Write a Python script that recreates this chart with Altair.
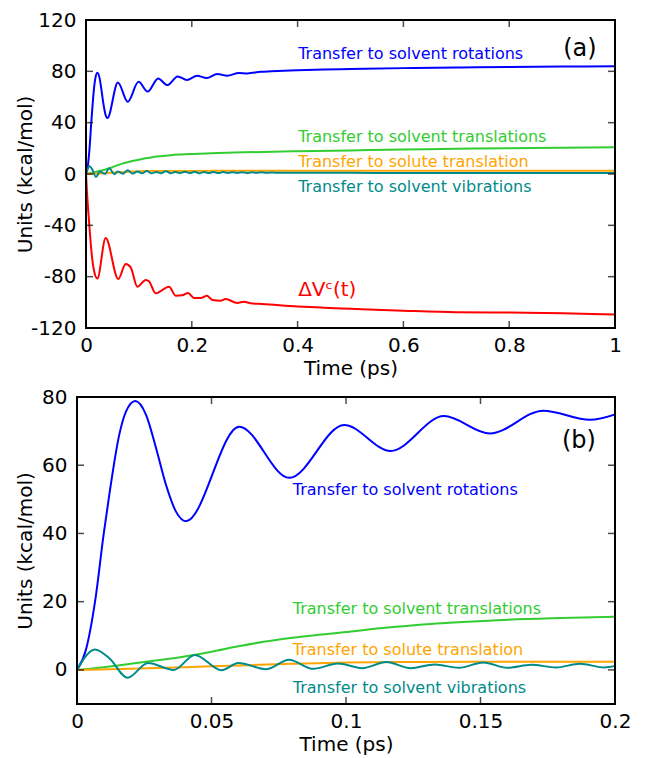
import altair as alt
import pandas as pd

# ---------------- data ----------------
SERIES = ["rot", "trans", "solute", "vib", "dv"]
COLORS = ["#0000ff", "#32cd32", "#ffa500", "#008b8b", "#ff0000"]

rot_t = [0, 0.0033, 0.0056, 0.0068, 0.0099, 0.012, 0.0157, 0.0182, 0.0217, 0.0257, 0.0294,
         0.0331, 0.0368, 0.0405, 0.0603, 0.0789, 0.0993, 0.1166, 0.1364, 0.1535,
         0.1734, 0.1907, 0.210, 0.228, 0.248, 0.267, 0.289, 0.305, 0.330, 0.35, 0.40, 0.45,
         0.5, 0.6, 0.7, 0.8, 0.9, 1.0]
rot_y = [0, 5.8, 14.6, 20.5, 39.7, 51.3, 68.9, 75.7, 78.8, 74.7, 65.0,
         54.2, 46.4, 43.6, 71.3, 56.3, 71.8, 64.2, 74.4, 69.3,
         76.0, 73.3, 76.6, 74.8, 77.9, 76.6, 78.7, 78.4, 79.6, 80.0, 80.8, 81.4,
         81.8, 82.5, 83.0, 83.3, 83.7, 84.0]

trans_t = [0, 0.01, 0.02, 0.03, 0.04, 0.05, 0.06, 0.07, 0.08, 0.09, 0.1, 0.11, 0.12, 0.13,
           0.14, 0.16, 0.18, 0.2, 0.25, 0.3, 0.4, 0.5, 0.6, 0.7, 0.8, 0.9, 1.0]
trans_y = [0, 0.8, 1.8, 2.8, 3.9, 5.3, 6.9, 8.3, 9.4, 10.3, 11.1, 12.0, 12.7, 13.4,
           13.9, 14.7, 15.2, 15.6, 16.3, 16.9, 17.7, 18.4, 19.0, 19.6, 20.1, 20.5, 20.9]

solute_t = [0, 0.02, 0.04, 0.06, 0.08, 0.1, 0.12, 0.15, 0.2, 0.3, 0.5, 0.7, 1.0]
solute_y = [0, 0.3, 0.8, 1.3, 1.8, 2.2, 2.3, 2.4, 2.4, 2.5, 2.5, 2.5, 2.5]

vib_t = [0, 0.0067, 0.012, 0.0188, 0.0264, 0.036, 0.0438, 0.0537, 0.060, 0.0704, 0.0788,
         0.0878, 0.097, 0.106, 0.115, 0.124, 0.133, 0.142, 0.151, 0.160, 0.169, 0.178,
         0.187, 0.196, 0.205, 0.214, 0.223, 0.232, 0.241, 0.250, 0.259, 0.268, 0.277,
         0.286, 0.295, 0.304, 0.313, 0.322, 0.331, 0.340, 0.349, 0.358, 0.4, 0.5, 0.6,
         0.7, 0.8, 0.9, 1.0]
vib_y = [0, 6.0, 3.4, -2.3, 2.0, 0.0, 4.4, -0.1, 2.0, 0.2, 3.0,
         0.3, 1.9, 0.5, 2.3, 0.5, 1.6, 0.6, 2.2, 0.6, 1.5, 0.7,
         1.8, 0.7, 1.7, 0.6, 1.6, 0.7, 1.6, 0.7, 1.5, 0.8, 1.4,
         0.8, 1.4, 0.8, 1.3, 0.9, 1.3, 0.9, 1.2, 1.0, 1.0, 0.9, 0.8,
         0.8, 0.8, 0.8, 0.8]

dv_t = [0, 0.002, 0.0063, 0.0107, 0.015, 0.0214, 0.0372, 0.061, 0.075, 0.0845, 0.097, 0.113,
        0.119, 0.1317, 0.157, 0.1695, 0.182, 0.1928, 0.204, 0.2168, 0.229, 0.2388, 0.2546,
        0.264, 0.286, 0.2987, 0.311, 0.333, 0.4, 0.45, 0.5, 0.6, 0.7, 0.8, 0.9, 1.0]
dv_y = [0, -15, -40, -62, -75, -81.5, -49.9, -81.8, -70.1, -72.7, -87.8, -82.6,
        -83.6, -93.0, -87.8, -94.8, -94.5, -92.7, -96.6, -96.6, -94.8, -98.2, -98.7,
        -97.4, -100.5, -99.5, -100.8, -101.3, -103.2, -104.2, -105.0, -106.5, -107.7,
        -108.0, -108.6, -109.5]

# annotations
a_text = ["Transfer to solvent rotations", "Transfer to solvent translations",
          "Transfer to solute translation", "Transfer to solvent vibrations"]
a_series = ["rot", "trans", "solute", "vib"]
a_x = [0.401, 0.401, 0.401, 0.401]
a_y = [89.6, 25.2, 5.2, -14.3]
dv_label = "ΔVᶜ(t)"
dv_label_xy = (0.401, -94.8)
tag_a = ("(a)", 0.9654, 92.2)

b_x = [0.0802, 0.0802, 0.0802, 0.0802]
b_y = [51.3, 16.3, 4.4, -6.9]
tag_b = ("(b)", 0.1929, 65.0)

xa_ticks = [0, 0.2, 0.4, 0.6, 0.8, 1]
ya_ticks = [-120, -80, -40, 0, 40, 80, 120]
xb_ticks = [0, 0.05, 0.1, 0.15, 0.2]
yb_ticks = [0, 20, 40, 60, 80]

# ---------------- build tables ----------------
frames = []
for name, t, y in [("rot", rot_t, rot_y), ("trans", trans_t, trans_y),
                   ("solute", solute_t, solute_y), ("vib", vib_t, vib_y),
                   ("dv", dv_t, dv_y)]:
    frames.append(pd.DataFrame({"t": t, "y": y, "series": name}))
lines_df = pd.concat(frames, ignore_index=True)

FONT = "DejaVu Sans"
color_scale = alt.Scale(domain=SERIES, range=COLORS)
LABEL_EXPR = "replace(format(datum.value, '~g'), '\u2212', '-')"
TICK_LEN = 7
GROUP_W = 538  # both panels share the same group width; panel (a) is inset on the left


def panel(df, xdom, ydom, xticks, yticks, inset, H, ann_df, tag):
    W = GROUP_W
    xs = alt.Scale(domain=xdom, nice=False, zero=False, range=[inset, W])
    ys = alt.Scale(domain=ydom, nice=False, zero=False)
    x_axis = alt.Axis(values=xticks, ticks=False, domain=False, grid=False,
                      labelExpr=LABEL_EXPR, labelFontSize=20, labelPadding=7,
                      labelFont=FONT, labelColor="black", title="Time (ps)",
                      titleFontSize=20, titleFont=FONT, titleFontWeight="normal",
                      titleColor="black", titleY=40, titleX=(inset + W) / 2,
                      titleBaseline="middle", titleAlign="center",
                      labelFlush=False, labelOverlap=False)
    y_axis = alt.Axis(values=yticks, ticks=False, domain=False, grid=False,
                      labelExpr=LABEL_EXPR, labelFontSize=20, labelPadding=10,
                      labelFont=FONT, labelColor="black", title="Units (kcal/mol)",
                      titleFontSize=20, titleFont=FONT, titleFontWeight="normal",
                      titleColor="black", titleX=-52 - inset, titleY=H / 2,
                      titleAngle=270, titleBaseline="middle", titleAlign="center",
                      labelFlush=False, labelOverlap=False, offset=-inset)

    def X(field):
        return alt.X(field, type="quantitative", scale=xs, axis=x_axis, title="Time (ps)")

    def Y(field):
        return alt.Y(field, type="quantitative", scale=ys, axis=y_axis, title="Units (kcal/mol)")

    lines = alt.Chart(df).mark_line(interpolate="monotone", strokeWidth=2, clip=True).encode(
        x=X("t"), y=Y("y"),
        color=alt.Color("series:N", scale=color_scale, legend=None),
        order=alt.Order("t:Q"),
    )

    # frame along the scale domain
    frame_df = pd.DataFrame({
        "xa": [xdom[0], xdom[1], xdom[0], xdom[0]],
        "xb": [xdom[0], xdom[1], xdom[1], xdom[1]],
        "ya": [ydom[0], ydom[0], ydom[0], ydom[1]],
        "yb": [ydom[1], ydom[1], ydom[0], ydom[1]],
    })
    frame = alt.Chart(frame_df).mark_rule(color="black", strokeWidth=2, strokeCap="square").encode(
        x=X("xa"), x2="xb:Q", y=Y("ya"), y2="yb:Q")

    # inward ticks on all four sides
    xt = pd.DataFrame({"t": xticks, "ylo": ydom[0], "yhi": ydom[1]})
    yt = pd.DataFrame({"y": yticks, "xlo": xdom[0], "xhi": xdom[1]})
    tk = dict(color="black", thickness=1.5, size=TICK_LEN)
    bottom = alt.Chart(xt).mark_tick(orient="vertical", yOffset=-TICK_LEN / 2, **tk).encode(
        x=X("t"), y=Y("ylo"))
    top = alt.Chart(xt).mark_tick(orient="vertical", yOffset=TICK_LEN / 2, **tk).encode(
        x=X("t"), y=Y("yhi"))
    left = alt.Chart(yt).mark_tick(orient="horizontal", xOffset=TICK_LEN / 2, **tk).encode(
        x=X("xlo"), y=Y("y"))
    right = alt.Chart(yt).mark_tick(orient="horizontal", xOffset=-TICK_LEN / 2, **tk).encode(
        x=X("xhi"), y=Y("y"))

    ann = alt.Chart(ann_df).mark_text(align="left", baseline="alphabetic", font=FONT).encode(
        x=X("t"), y=Y("y"),
        text="label:N",
        color=alt.Color("series:N", scale=color_scale, legend=None),
        size=alt.Size("fs:Q", scale=None, legend=None),
    )
    tag_df = pd.DataFrame({"label": [tag[0]], "t": [tag[1]], "y": [tag[2]]})
    tagm = alt.Chart(tag_df).mark_text(align="right", baseline="alphabetic", font=FONT,
                                       fontSize=24, color="black").encode(
        x=X("t"), y=Y("y"), text="label:N",
    )
    return alt.layer(lines, frame, bottom, top, left, right, ann, tagm).properties(
        width=W, height=H)


ann_a = pd.DataFrame({"label": a_text + [dv_label], "t": a_x + [dv_label_xy[0]],
                      "y": a_y + [dv_label_xy[1]], "series": a_series + ["dv"],
                      "fs": [16, 16, 16, 16, 20]})
ann_b = pd.DataFrame({"label": a_text, "t": b_x, "y": b_y, "series": a_series,
                      "fs": [16, 16, 16, 16]})

df_b = lines_df[(lines_df.series != "dv") & (lines_df.t <= 0.25)]

pa = panel(lines_df, [0, 1], [-120, 120], xa_ticks, ya_ticks, 9, 308, ann_a, tag_a)
pb = panel(df_b, [0, 0.2], [-10, 80], xb_ticks, yb_ticks, 0, 307, ann_b, tag_b)

chart = alt.vconcat(pa, pb, spacing=9).properties(
    background="white",
    padding={"top": 2, "left": 7, "right": 5, "bottom": 2},
).configure_view(stroke=None)

chart.save("out.html", embed_options={"renderer": "svg", "actions": False})
